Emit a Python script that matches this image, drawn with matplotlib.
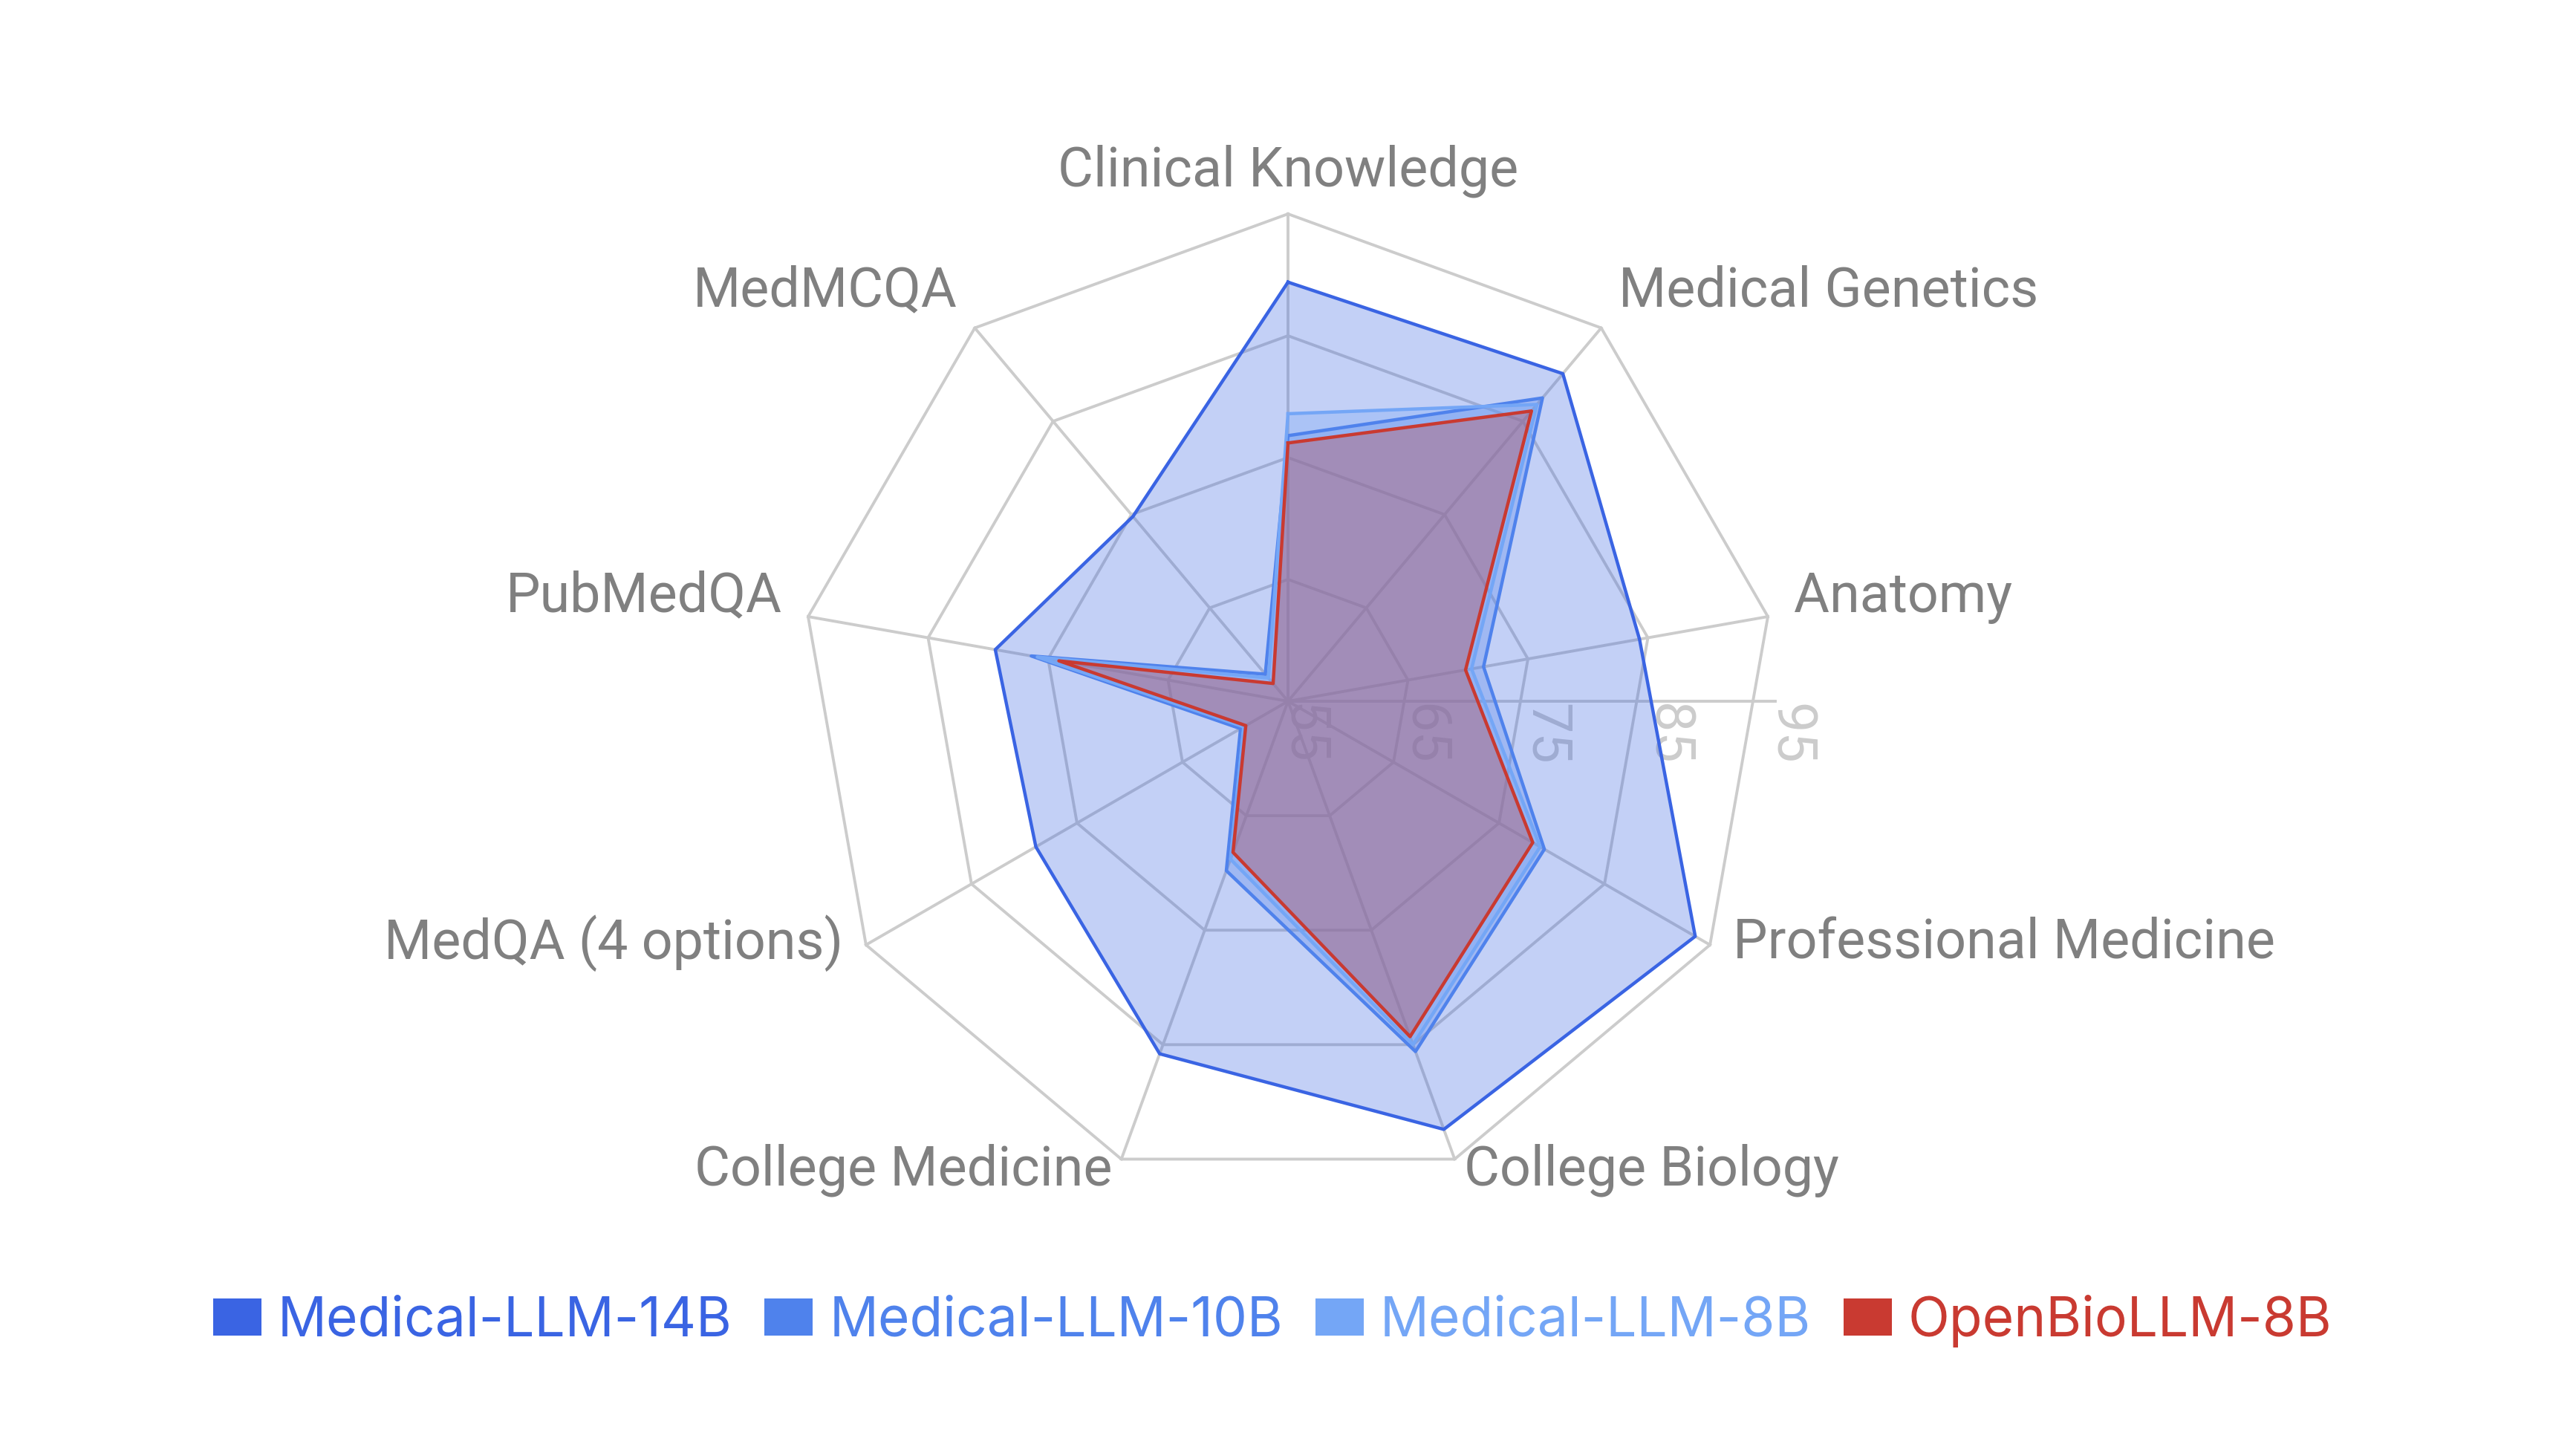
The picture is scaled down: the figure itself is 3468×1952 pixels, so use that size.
import numpy as np
import matplotlib
matplotlib.use('Agg')
from matplotlib import pyplot as plt
from matplotlib.patches import Patch

categories = ['Clinical Knowledge', 'Medical Genetics', 'Anatomy', 'Professional Medicine',
              'College Biology', 'College Medicine', 'MedQA (4 options)', 'PubMedQA', 'MedMCQA']
models = ['Medical-LLM-14B', 'Medical-LLM-10B', 'Medical-LLM-8B', 'OpenBioLLM-8B']

llm_14b = [89.4, 90.1, 84.3, 93.6, 92.4, 85.8, 78.9, 79.4, 74.8]
llm_10b = [76.8, 87.5, 71.3, 79.3, 85.6, 69.8, 59.5, 76.4, 57.9]
llm_8b = [78.6, 86.8, 70.3, 78.9, 85.0, 68.8, 59.2, 75.9, 57.5]
openbio_8b = [76.2, 86.1, 69.8, 78.2, 84.3, 68.2, 59.0, 74.1, 56.9]

levels = [55, 65, 75, 85, 95]

colors = ['#3a64e3', '#4f82ec', '#74a6f6', '#c93a31']
grid_c = '#cccccc'
label_c = '#808080'
fs = 26.5

plt.rcParams['font.family'] = ['Roboto', 'DejaVu Sans']

fig = plt.figure(figsize=(17.34, 9.76), dpi=200)
ax = fig.add_axes([0.31084, 0.18033, 0.37832, 0.67213], projection='polar')
ax.set_theta_offset(np.pi / 2)
ax.set_theta_direction(-1)
ax.set_ylim(levels[0], levels[-1])
ax.set_xticks([])
ax.set_yticks([])
ax.grid(False)
ax.spines['polar'].set_visible(False)
ax.patch.set_visible(False)

angles = np.linspace(0, 2 * np.pi, len(categories), endpoint=False)
closed = np.append(angles, angles[0])

# сетка: многоугольники и лучи
for lv in levels[1:]:
    ax.plot(closed, [lv] * len(closed), color=grid_c, lw=1.4, zorder=1, clip_on=False)
for a in angles:
    ax.plot([a, a], [levels[0], levels[-1]], color=grid_c, lw=1.4, zorder=1, clip_on=False)
ax.plot([np.pi / 2, np.pi / 2], [levels[0], levels[-1]], color=grid_c, lw=1.4, zorder=1, clip_on=False)

# подписи шкалы
for lv in levels:
    ax.annotate(str(lv), xy=(np.pi / 2, lv), xytext=(19, -3), textcoords='offset pixels',
                rotation=-90, ha='center', va='top', color=grid_c, fontsize=fs,
                zorder=1, annotation_clip=False)

# подписи осей
for a, name in zip(angles, categories):
    s, c = np.sin(a), np.cos(a)
    if abs(s) < 0.1:
        ha = 'center'
    elif s > 0:
        ha = 'left'
    else:
        ha = 'right'
    ax.annotate(name, xy=(a, levels[-1]), xytext=(36 * s, 37.5 * c), textcoords='offset pixels',
                ha=ha, va='baseline', color=label_c, fontsize=fs, annotation_clip=False)

series = [llm_14b, llm_10b, llm_8b, openbio_8b]
for vals, col in zip(series, colors):
    v = np.append(vals, vals[0])
    ax.fill(closed, v, color=col, alpha=0.3, lw=0, zorder=2)
    ax.plot(closed, v, color=col, lw=1.6, zorder=3, clip_on=False)

handles = [Patch(facecolor=col, edgecolor='none') for col in colors]
fig.legend(handles, models, loc='center', bbox_to_anchor=(0.494, 0.089), ncol=4,
           frameon=False, prop={'family': ['Inter', 'DejaVu Sans'], 'size': 26.3},
           handlelength=0.89, handleheight=0.67,
           handletextpad=0.3, columnspacing=0.6, labelcolor=colors)

fig.savefig('out.png', dpi=200)
